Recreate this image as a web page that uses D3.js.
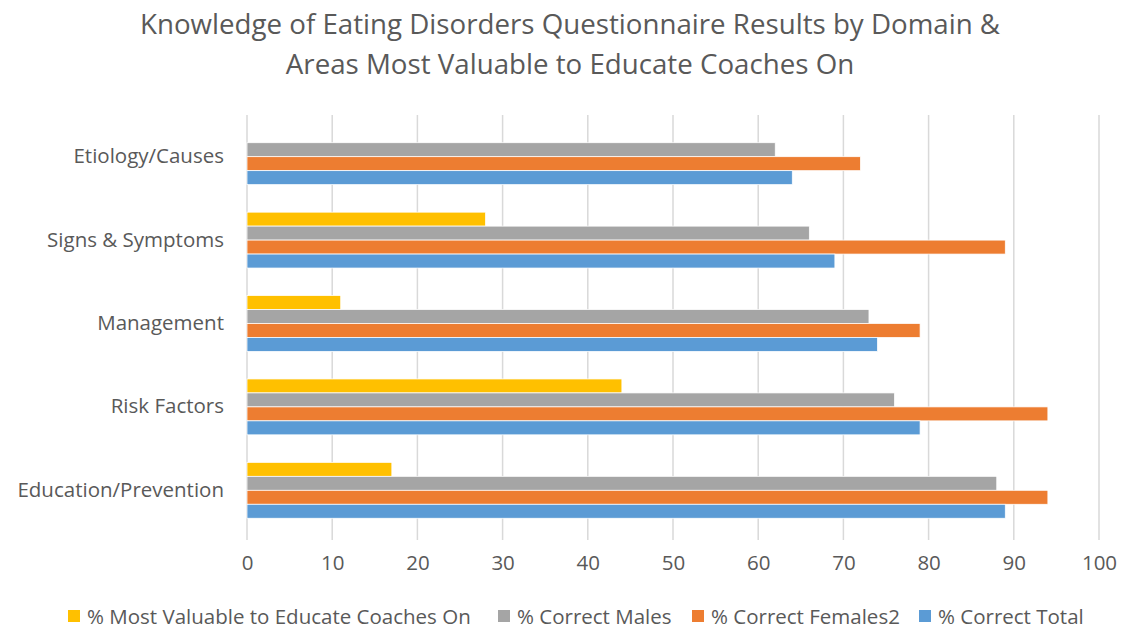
<!DOCTYPE html>
<html>
<head>
<meta charset="utf-8">
<script src="https://cdn.jsdelivr.net/npm/d3@7"></script>
<style>
  body { margin: 0; background: #fff; }
  svg text { font-family: "Open Sans", Lato, sans-serif; fill: #595959; }
</style>
</head>
<body>
<svg id="chart" width="1121" height="630"></svg>
<script>
// Domains, top to bottom
const categories = ["Etiology/Causes", "Signs & Symptoms", "Management", "Risk Factors", "Education/Prevention"];
// Series, in the order drawn inside each group (top to bottom)
const seriesNames = ["% Most Valuable to Educate Coaches On", "% Correct Males", "% Correct Females2", "% Correct Total"];
const seriesColors = ["#FFC000", "#A5A5A5", "#ED7D31", "#5B9BD5"];
const mostValuable = [null, 28, 11, 44, 17];
const correctMales = [62, 66, 73, 76, 88];
const correctFemales = [72, 89, 79, 94, 94];
const correctTotal = [64, 69, 74, 79, 89];
const tickValues = [0, 10, 20, 30, 40, 50, 60, 70, 80, 90, 100];
const titleLines = ["Knowledge of Eating Disorders Questionnaire Results by Domain &", "Areas Most Valuable to Educate Coaches On"];

const seriesValues = [mostValuable, correctMales, correctFemales, correctTotal];

const svg = d3.select("#chart");
const plot = { left: 247, right: 1099, top: 115, bottom: 532 };

const x = d3.scaleLinear().domain([0, 100]).range([plot.left, plot.right]);
const y = d3.scaleBand().domain(categories).range([plot.top, plot.bottom]).paddingInner(0.33).paddingOuter(0.165);
const yInner = d3.scaleBand().domain(seriesNames).range([0, y.bandwidth()]);

// Title
svg.append("g").selectAll("text").data(titleLines).join("text")
  .attr("x", 570).attr("y", (d, i) => 34 + i * 40)
  .attr("text-anchor", "middle")
  .style("font-size", "27.7px")
  .text(d => d);

// Vertical gridlines, extending slightly below the plot as tick marks
svg.append("g").selectAll("line").data(tickValues).join("line")
  .attr("x1", d => x(d)).attr("x2", d => x(d))
  .attr("y1", plot.top).attr("y2", plot.bottom + 8)
  .attr("stroke", "#D9D9D9").attr("stroke-width", 1.5);

// Bars
const rows = [];
categories.forEach((c, ci) => {
  seriesNames.forEach((s, si) => {
    const v = seriesValues[si][ci];
    if (v != null) rows.push({ c, s, v, color: seriesColors[si] });
  });
});
svg.append("g").selectAll("rect").data(rows).join("rect")
  .attr("x", x(0))
  .attr("y", d => y(d.c) + yInner(d.s))
  .attr("width", d => x(d.v) - x(0))
  .attr("height", yInner.bandwidth())
  .attr("fill", d => d.color)
  .attr("stroke", "#fff").attr("stroke-width", 0.75);

// Category labels
const yAxis = d3.axisLeft(y).tickSize(0).tickPadding(23);
svg.append("g").attr("transform", `translate(${plot.left},0)`).call(yAxis)
  .call(g => g.select(".domain").remove())
  .selectAll("text").style("font-size", "20.5px").attr("fill", "#595959");

// Value axis labels
const xAxis = d3.axisBottom(x).tickValues(tickValues).tickSize(0).tickPadding(23);
svg.append("g").attr("transform", `translate(0,${plot.bottom})`).call(xAxis)
  .call(g => g.select(".domain").remove())
  .selectAll("text").style("font-size", "20.5px").attr("fill", "#595959");

// Legend
const legendX = [68, 498, 692, 919];
const legend = svg.append("g").selectAll("g").data(seriesNames).join("g")
  .attr("transform", (d, i) => `translate(${legendX[i]},610)`);
legend.append("rect").attr("width", 12).attr("height", 12).attr("y", 0)
  .attr("fill", (d, i) => seriesColors[i]);
legend.append("text").attr("x", 19).attr("y", 14)
  .style("font-size", "20.5px").text(d => d);
</script>
</body>
</html>
